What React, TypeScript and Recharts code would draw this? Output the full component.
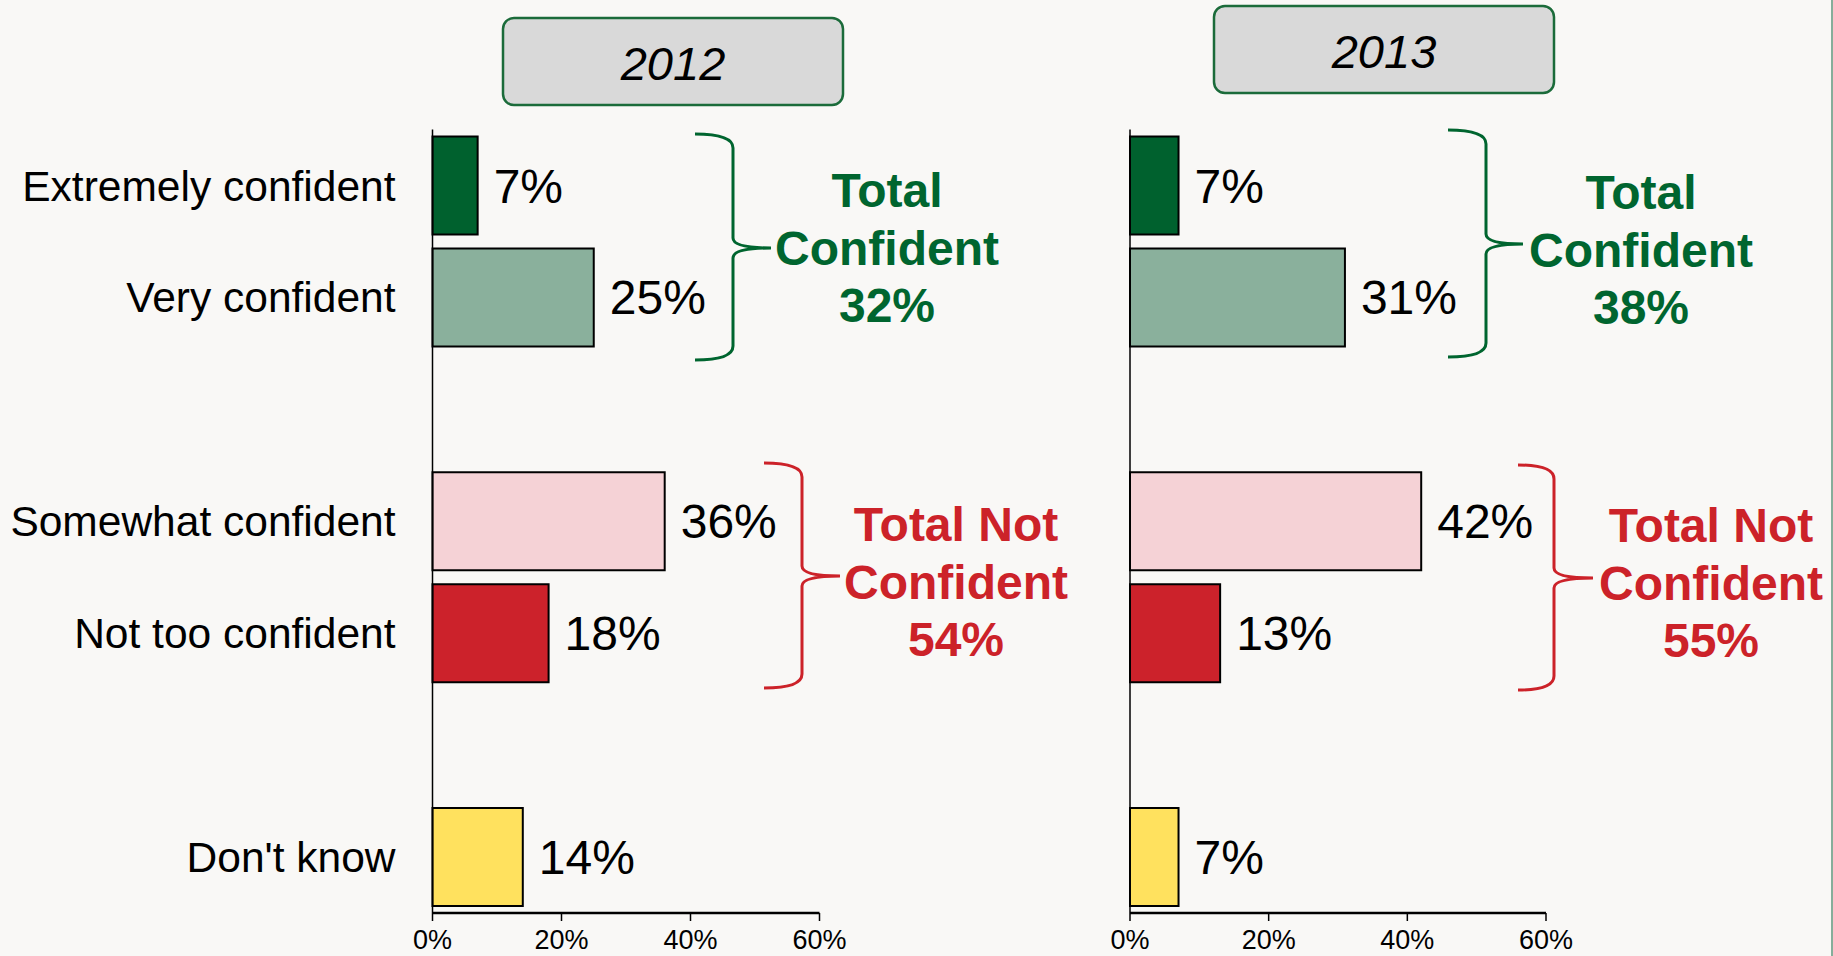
import { BarChart, Bar, XAxis, YAxis, Cell, LabelList } from 'recharts'

// categories incl. two blank spacer rows between the groups
const CATEGORIES = ['Extremely confident', 'Very confident', 'gap-1', 'Somewhat confident', 'Not too confident', 'gap-2', "Don't know"]
const VALUES_2012 = [7, 25, null, 36, 18, null, 14]
const VALUES_2013 = [7, 31, null, 42, 13, null, 7]
const X_TICKS = [0, 20, 40, 60]
const YEARS = ['2012', '2013']
const CONFIDENT = ['Extremely confident', 'Very confident']
const NOT_CONFIDENT = ['Somewhat confident', 'Not too confident']

const COLORS: Record<string, string> = {
  'Extremely confident': '#00612e',
  'Very confident': '#8ab09c',
  'Somewhat confident': '#f5d2d6',
  'Not too confident': '#cc222b',
  "Don't know": '#ffe15e',
}

const GREEN = '#00652f'
const RED = '#cc2229'
const FONT = '"Liberation Sans", Arial, Helvetica, sans-serif'

const CHART_HEIGHT = 956
const PLOT_TOP = 129.5
const X_AXIS_HEIGHT = 43

function toRows(values: (number | null)[]) {
  return CATEGORIES.map((name, i) => ({ name, value: values[i] }))
}

function groupTotal(values: (number | null)[], group: string[]) {
  return group.reduce((sum, name) => sum + (values[CATEGORIES.indexOf(name)] ?? 0), 0)
}

interface PanelProps {
  values: (number | null)[]
  left: number
  width: number
  yAxisWidth: number
  marginRight: number
  showCategories: boolean
}

function Panel({ values, left, width, yAxisWidth, marginRight, showCategories }: PanelProps) {
  const rows = toRows(values)
  return (
    <div style={{ position: 'absolute', left, top: 0 }}>
      <BarChart
        width={width}
        height={CHART_HEIGHT}
        data={rows}
        layout="vertical"
        margin={{ top: PLOT_TOP, right: marginRight, bottom: 0, left: 0 }}
      >
        <XAxis
          type="number"
          domain={[0, 60]}
          ticks={X_TICKS}
          tickFormatter={(v) => `${v}%`}
          height={X_AXIS_HEIGHT}
          axisLine={{ stroke: '#000', strokeWidth: 2.5 }}
          tickLine={{ stroke: '#000', strokeWidth: 1.5 }}
          tickSize={8}
          tickMargin={9}
          tick={{ fill: '#000', fontSize: 27, fontFamily: FONT }}
          interval={0}
        />
        <YAxis
          type="category"
          dataKey="name"
          width={yAxisWidth}
          axisLine={{ stroke: '#000', strokeWidth: 1.5 }}
          tickLine={false}
          tickSize={0}
          tickMargin={37}
          interval={0}
          tick={showCategories ? { fill: '#000', fontSize: 42.5, fontFamily: FONT } : false}
          tickFormatter={(n: string) => (n.startsWith('gap') ? '' : n)}
        />
        <Bar dataKey="value" barSize={98} stroke="#000" strokeWidth={2} isAnimationActive={false}>
          {rows.map((r) => (
            <Cell key={r.name} fill={COLORS[r.name] ?? 'none'} />
          ))}
          <LabelList
            dataKey="value"
            position="right"
            offset={16}
            formatter={(v: any) => (v == null ? '' : `${v}%`)}
            style={{ fill: '#000', fontSize: 48, fontFamily: FONT }}
          />
        </Bar>
      </BarChart>
    </div>
  )
}

function Brace({ x0, vx, tip, yTop, yMid, yBot, color }: { x0: number; vx: number; tip: number; yTop: number; yMid: number; yBot: number; color: string }) {
  const d = `M ${x0},${yTop} Q ${vx},${yTop} ${vx},${yTop + 14} L ${vx},${yMid - 10} Q ${vx},${yMid} ${tip},${yMid} Q ${vx},${yMid} ${vx},${yMid + 10} L ${vx},${yBot - 14} Q ${vx},${yBot} ${x0},${yBot}`
  return <path d={d} fill="none" stroke={color} strokeWidth={3} />
}

function GroupText({ x, y, lines, color }: { x: number; y: number; lines: string[]; color: string }) {
  return (
    <>
      {lines.map((line, i) => (
        <text key={i} x={x} y={y + i * 57.5} textAnchor="middle" fill={color} fontSize={48} fontWeight="bold" fontFamily={FONT}>
          {line}
        </text>
      ))}
    </>
  )
}

function YearBox({ x, y, label }: { x: number; y: number; label: string }) {
  return (
    <g>
      <rect x={x} y={y} width={340} height={87} rx={11} fill="#d9d9d9" stroke="#1b6b3a" strokeWidth={2.5} />
      <text x={x + 170} y={y + 62} textAnchor="middle" fontSize={47} fontStyle="italic" fontFamily={FONT} fill="#000">
        {label}
      </text>
    </g>
  )
}

export default function App() {
  const conf12 = groupTotal(VALUES_2012, CONFIDENT)
  const conf13 = groupTotal(VALUES_2013, CONFIDENT)
  const not12 = groupTotal(VALUES_2012, NOT_CONFIDENT)
  const not13 = groupTotal(VALUES_2013, NOT_CONFIDENT)

  return (
    <div style={{ position: 'absolute', left: 0, top: 0, width: 1833, height: 956, background: '#f9f8f6', overflow: 'hidden', fontFamily: FONT }}>
      <Panel values={VALUES_2012} left={0} width={880} yAxisWidth={432.5} marginRight={60.5} showCategories />
      <Panel values={VALUES_2013} left={1100} width={500} yAxisWidth={30} marginRight={54} showCategories={false} />

      <svg width={1833} height={956} style={{ position: 'absolute', left: 0, top: 0, pointerEvents: 'none' }}>
        <YearBox x={503} y={18} label={YEARS[0]} />
        <YearBox x={1214} y={6} label={YEARS[1]} />

        <Brace x0={695} vx={733} tip={771} yTop={134} yMid={248} yBot={360} color={GREEN} />
        <GroupText x={887} y={207} lines={['Total', 'Confident', `${conf12}%`]} color={GREEN} />
        <Brace x0={764} vx={802} tip={840} yTop={463} yMid={576} yBot={688} color={RED} />
        <GroupText x={956} y={541} lines={['Total Not', 'Confident', `${not12}%`]} color={RED} />

        <Brace x0={1448} vx={1486} tip={1523} yTop={130} yMid={244} yBot={357} color={GREEN} />
        <GroupText x={1641} y={209} lines={['Total', 'Confident', `${conf13}%`]} color={GREEN} />
        <Brace x0={1518} vx={1554} tip={1593} yTop={465} yMid={578} yBot={690} color={RED} />
        <GroupText x={1711} y={542} lines={['Total Not', 'Confident', `${not13}%`]} color={RED} />

        <rect x={1831} y={0} width={2} height={956} fill="#86ad9a" />
      </svg>
    </div>
  )
}
